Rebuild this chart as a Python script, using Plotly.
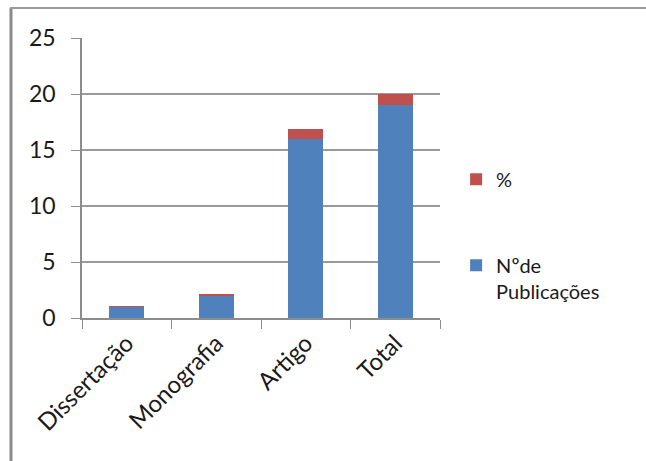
import plotly.graph_objects as go

categories = ["Dissertação", "Monografia", "Artigo", "Total"]
publicacoes = [1, 2, 16, 19]
percentual = [0.05, 0.11, 0.84, 1.0]
y_ticks = [0, 5, 10, 15, 20, 25]

FONT = "Lato"
W, H = 646, 461
L, R, T, B = 82, 206, 38, 143

fig = go.Figure()
fig.add_trace(go.Bar(x=categories, y=publicacoes, name="Nºde<br>Publicações",
                     marker=dict(color="#4F81BD", line=dict(width=0)),
                     legendgroup="a", legendrank=2))
fig.add_trace(go.Bar(x=categories, y=percentual, name="%",
                     marker=dict(color="#C0504D", line=dict(width=0)),
                     legendgroup="b", legendrank=1))

fig.update_layout(
    width=W, height=H,
    margin=dict(l=L, r=R, t=T, b=B, pad=0),
    barmode="stack", bargap=0.61,
    paper_bgcolor="white", plot_bgcolor="white",
    font=dict(family=FONT, size=20, color="#1a1a1a"),
    legend=dict(x=1.045, y=0.565, xanchor="left", yanchor="top",
                traceorder="grouped", tracegroupgap=57,
                valign="top", font=dict(family=FONT, size=20, color="#1a1a1a"),
                bgcolor="rgba(0,0,0,0)"),
    xaxis=dict(tickangle=-45, showgrid=False, showline=True, linecolor="#8c8c8c",
               linewidth=1.5, ticks="outside", ticklen=9, tickcolor="#8c8c8c",
               tickson="boundaries", tickfont=dict(family=FONT, size=24)),
    yaxis=dict(range=[0, 25], tickvals=y_ticks, showgrid=True, gridcolor="#9a9a9a",
               gridwidth=1.5, showline=True, linecolor="#8c8c8c", linewidth=1.5,
               ticks="outside", ticklen=9, tickcolor="#8c8c8c", ticklabelstandoff=11,
               tickfont=dict(family=FONT, size=23), zeroline=False),
    shapes=[
        dict(type="line", xref="paper", yref="paper",
             x0=(11 - L) / (W - L - R), x1=(11 - L) / (W - L - R),
             y0=(H - B - 8) / (H - T - B), y1=(H - B - H) / (H - T - B),
             line=dict(color="#8a8a8a", width=3)),
        dict(type="line", xref="paper", yref="paper",
             x0=(10 - L) / (W - L - R), x1=(W - L) / (W - L - R),
             y0=(H - B - 8) / (H - T - B), y1=(H - B - 8) / (H - T - B),
             line=dict(color="#9a9a9a", width=2)),
    ],
)

fig.write_html("out.html")
